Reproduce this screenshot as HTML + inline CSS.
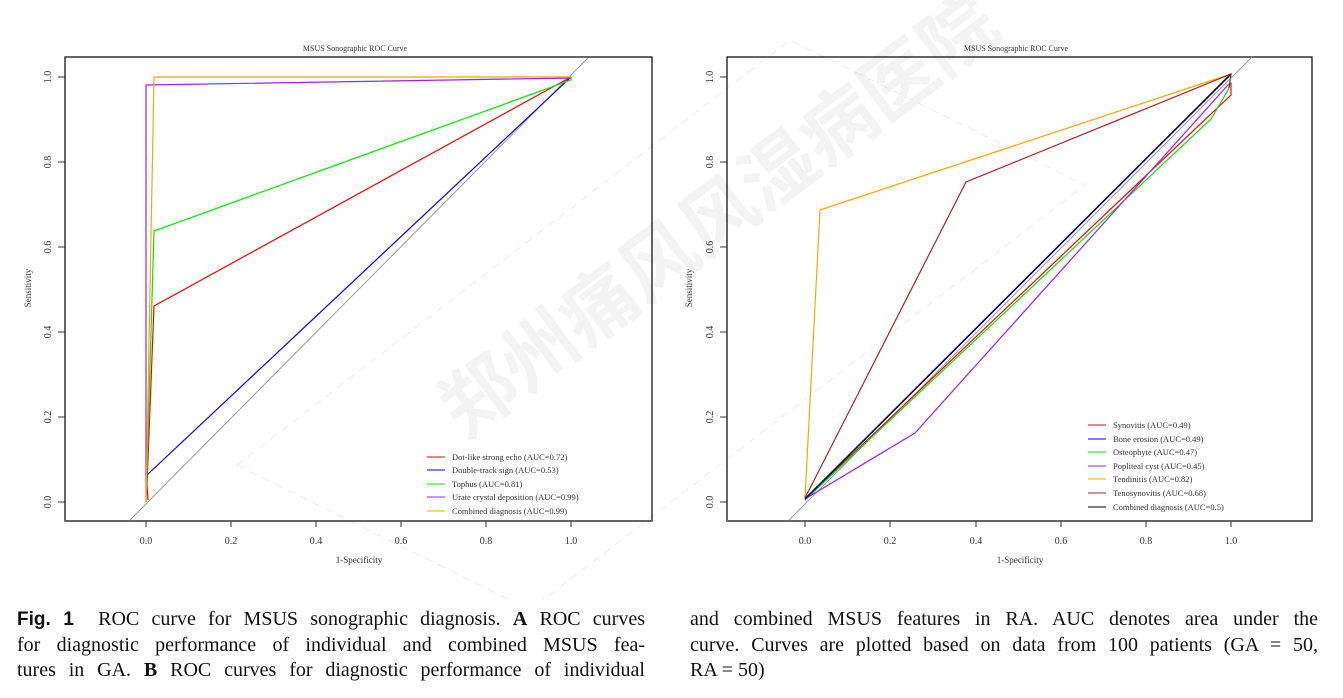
<!DOCTYPE html>
<html><head><meta charset="utf-8"><style>
body{margin:0;background:#fff;width:1343px;height:698px;overflow:hidden;position:relative;font-family:"Liberation Serif",serif}
.ln{position:absolute;font-size:20px;line-height:25.5px;color:#111;width:628px;text-align:justify;text-align-last:justify;white-space:nowrap}
.last{text-align-last:left}
</style></head><body>
<svg width="1343" height="600" style="position:absolute;left:0;top:0" font-family="Liberation Serif, serif">
<g opacity="0.045" fill="#000">
<text x="0" y="0" font-size="75" font-family="Noto Sans CJK SC, sans-serif" font-weight="bold" transform="translate(465,440) rotate(-37)">郑州痛风风湿病医院</text>
</g>
<g fill="none" stroke="#ccc" stroke-dasharray="8,6" stroke-width="1" opacity="0.4">
<polygon points="237,465 790,40 1085,185 530,610"/>
</g>
<!-- LEFT -->
<text x="355" y="51" font-size="8" text-anchor="middle" fill="#333">MSUS Sonographic ROC Curve</text>
<rect x="65" y="57" width="587" height="464" fill="none" stroke="#000" stroke-width="1.2"/>
<line x1="65" y1="521" x2="652" y2="521" stroke="#666" stroke-width="2"/>
<g stroke="#333" stroke-width="1">
<line x1="146" y1="521" x2="146" y2="527"/><line x1="231" y1="521" x2="231" y2="527"/><line x1="316" y1="521" x2="316" y2="527"/><line x1="401" y1="521" x2="401" y2="527"/><line x1="486" y1="521" x2="486" y2="527"/><line x1="571" y1="521" x2="571" y2="527"/>
<line x1="58" y1="502" x2="65" y2="502"/><line x1="58" y1="417" x2="65" y2="417"/><line x1="58" y1="332" x2="65" y2="332"/><line x1="58" y1="247" x2="65" y2="247"/><line x1="58" y1="162" x2="65" y2="162"/><line x1="58" y1="77" x2="65" y2="77"/>
</g>
<g font-size="10" fill="#333" text-anchor="middle">
<text x="146" y="544">0.0</text><text x="231" y="544">0.2</text><text x="316" y="544">0.4</text><text x="401" y="544">0.6</text><text x="486" y="544">0.8</text><text x="571" y="544">1.0</text>
<text transform="translate(51,502) rotate(-90)">0.0</text><text transform="translate(51,417) rotate(-90)">0.2</text><text transform="translate(51,332) rotate(-90)">0.4</text><text transform="translate(51,247) rotate(-90)">0.6</text><text transform="translate(51,162) rotate(-90)">0.8</text><text transform="translate(51,77) rotate(-90)">1.0</text>
<text x="359" y="563" font-size="9">1-Specificity</text>
<text transform="translate(31,288) rotate(-90)" font-size="9">Sensitivity</text>
</g>
<line x1="130" y1="520" x2="588" y2="58" stroke="#999" stroke-width="1"/>
<g fill="none" stroke-width="1.2">
<polyline points="148,500 147,485 154,306 571,77" stroke="#ff0000"/>
<polyline points="147,475 571,77" stroke="#0000ff"/>
<polyline points="146,502 154,231 571,80 571,77" stroke="#00ee00"/>
<polyline points="146,502 146,85 571,78" stroke="#a020f0"/>
<polyline points="146,502 154,77 571,77" stroke="#ffa500"/>
</g>
<g font-size="8.5" fill="#333">
<line x1="427" y1="457" x2="445" y2="457" stroke="#f00"/><text x="452" y="460">Dot-like strong echo (AUC=0.72)</text>
<line x1="427" y1="470" x2="445" y2="470" stroke="#00f"/><text x="452" y="473">Double-track sign (AUC=0.53)</text>
<line x1="427" y1="484" x2="445" y2="484" stroke="#0e0"/><text x="452" y="487">Tophus (AUC=0.81)</text>
<line x1="427" y1="497" x2="445" y2="497" stroke="#a020f0"/><text x="452" y="500">Urate crystal deposition (AUC=0.99)</text>
<line x1="427" y1="511" x2="445" y2="511" stroke="#ffa500"/><text x="452" y="514">Combined diagnosis (AUC=0.99)</text>
</g>
<!-- RIGHT -->
<text x="1016" y="51" font-size="8" text-anchor="middle" fill="#333">MSUS Sonographic ROC Curve</text>
<rect x="727" y="57" width="585" height="464" fill="none" stroke="#000" stroke-width="1.2"/>
<line x1="727" y1="521" x2="1312" y2="521" stroke="#666" stroke-width="2"/>
<g stroke="#333" stroke-width="1">
<line x1="805" y1="521" x2="805" y2="527"/><line x1="890" y1="521" x2="890" y2="527"/><line x1="976" y1="521" x2="976" y2="527"/><line x1="1061" y1="521" x2="1061" y2="527"/><line x1="1146" y1="521" x2="1146" y2="527"/><line x1="1231" y1="521" x2="1231" y2="527"/>
<line x1="720" y1="502" x2="727" y2="502"/><line x1="720" y1="417" x2="727" y2="417"/><line x1="720" y1="332" x2="727" y2="332"/><line x1="720" y1="247" x2="727" y2="247"/><line x1="720" y1="162" x2="727" y2="162"/><line x1="720" y1="77" x2="727" y2="77"/>
</g>
<g font-size="10" fill="#333" text-anchor="middle">
<text x="805" y="544">0.0</text><text x="890" y="544">0.2</text><text x="976" y="544">0.4</text><text x="1061" y="544">0.6</text><text x="1146" y="544">0.8</text><text x="1231" y="544">1.0</text>
<text transform="translate(713,502) rotate(-90)">0.0</text><text transform="translate(713,417) rotate(-90)">0.2</text><text transform="translate(713,332) rotate(-90)">0.4</text><text transform="translate(713,247) rotate(-90)">0.6</text><text transform="translate(713,162) rotate(-90)">0.8</text><text transform="translate(713,77) rotate(-90)">1.0</text>
<text x="1020" y="563" font-size="9">1-Specificity</text>
<text transform="translate(692,288) rotate(-90)" font-size="9">Sensitivity</text>
</g>
<line x1="789" y1="520" x2="1252" y2="57" stroke="#999" stroke-width="1"/>
<g fill="none" stroke-width="1.2">
<polyline points="805,499 1231,95 1231,83" stroke="#ff0000"/>
<polyline points="805,500 1211,119 1228,90 1231,82" stroke="#00ee00"/>
<polyline points="805,499 915,433 1228,85 1231,83" stroke="#a020f0"/>
<polyline points="805,499 1231,74" stroke="#0000ff" stroke-width="1.6"/>
<polyline points="805,498 820,210 1231,74" stroke="#ffa500"/>
<polyline points="805,498 966,182 1231,74 1229,88" stroke="#b22222"/>
<polyline points="805,499 1231,74" stroke="#000" stroke-width="1"/>
</g>
<g font-size="8.5" fill="#333">
<line x1="1088" y1="425" x2="1106" y2="425" stroke="#f00"/><text x="1113" y="428">Synovitis (AUC=0.49)</text>
<line x1="1088" y1="439" x2="1106" y2="439" stroke="#00f"/><text x="1113" y="442">Bone erosion (AUC=0.49)</text>
<line x1="1088" y1="452" x2="1106" y2="452" stroke="#0e0"/><text x="1113" y="455">Osteophyte (AUC=0.47)</text>
<line x1="1088" y1="466" x2="1106" y2="466" stroke="#a020f0"/><text x="1113" y="469">Popliteal cyst (AUC=0.45)</text>
<line x1="1088" y1="479" x2="1106" y2="479" stroke="#ffa500"/><text x="1113" y="482">Tendinitis (AUC=0.82)</text>
<line x1="1088" y1="493" x2="1106" y2="493" stroke="#b22222"/><text x="1113" y="496">Tenosynovitis (AUC=0.68)</text>
<line x1="1088" y1="507" x2="1106" y2="507" stroke="#000"/><text x="1113" y="510">Combined diagnosis (AUC=0.5)</text>
</g>
</svg>
<div class="ln" style="left:17px;top:607px"><b style="font-family:'Liberation Sans',sans-serif;font-size:19px">Fig. 1</b>&nbsp; ROC curve for MSUS sonographic diagnosis. <b>A</b> ROC curves</div>
<div class="ln" style="left:17px;top:633px">for diagnostic performance of individual and combined MSUS fea-</div>
<div class="ln" style="left:17px;top:658px">tures in GA. <b>B</b> ROC curves for diagnostic performance of individual</div>
<div class="ln" style="left:690px;top:607px">and combined MSUS features in RA. AUC denotes area under the</div>
<div class="ln" style="left:690px;top:633px">curve. Curves are plotted based on data from 100 patients (GA = 50,</div>
<div class="ln last" style="left:690px;top:658px">RA = 50)</div>
</body></html>
